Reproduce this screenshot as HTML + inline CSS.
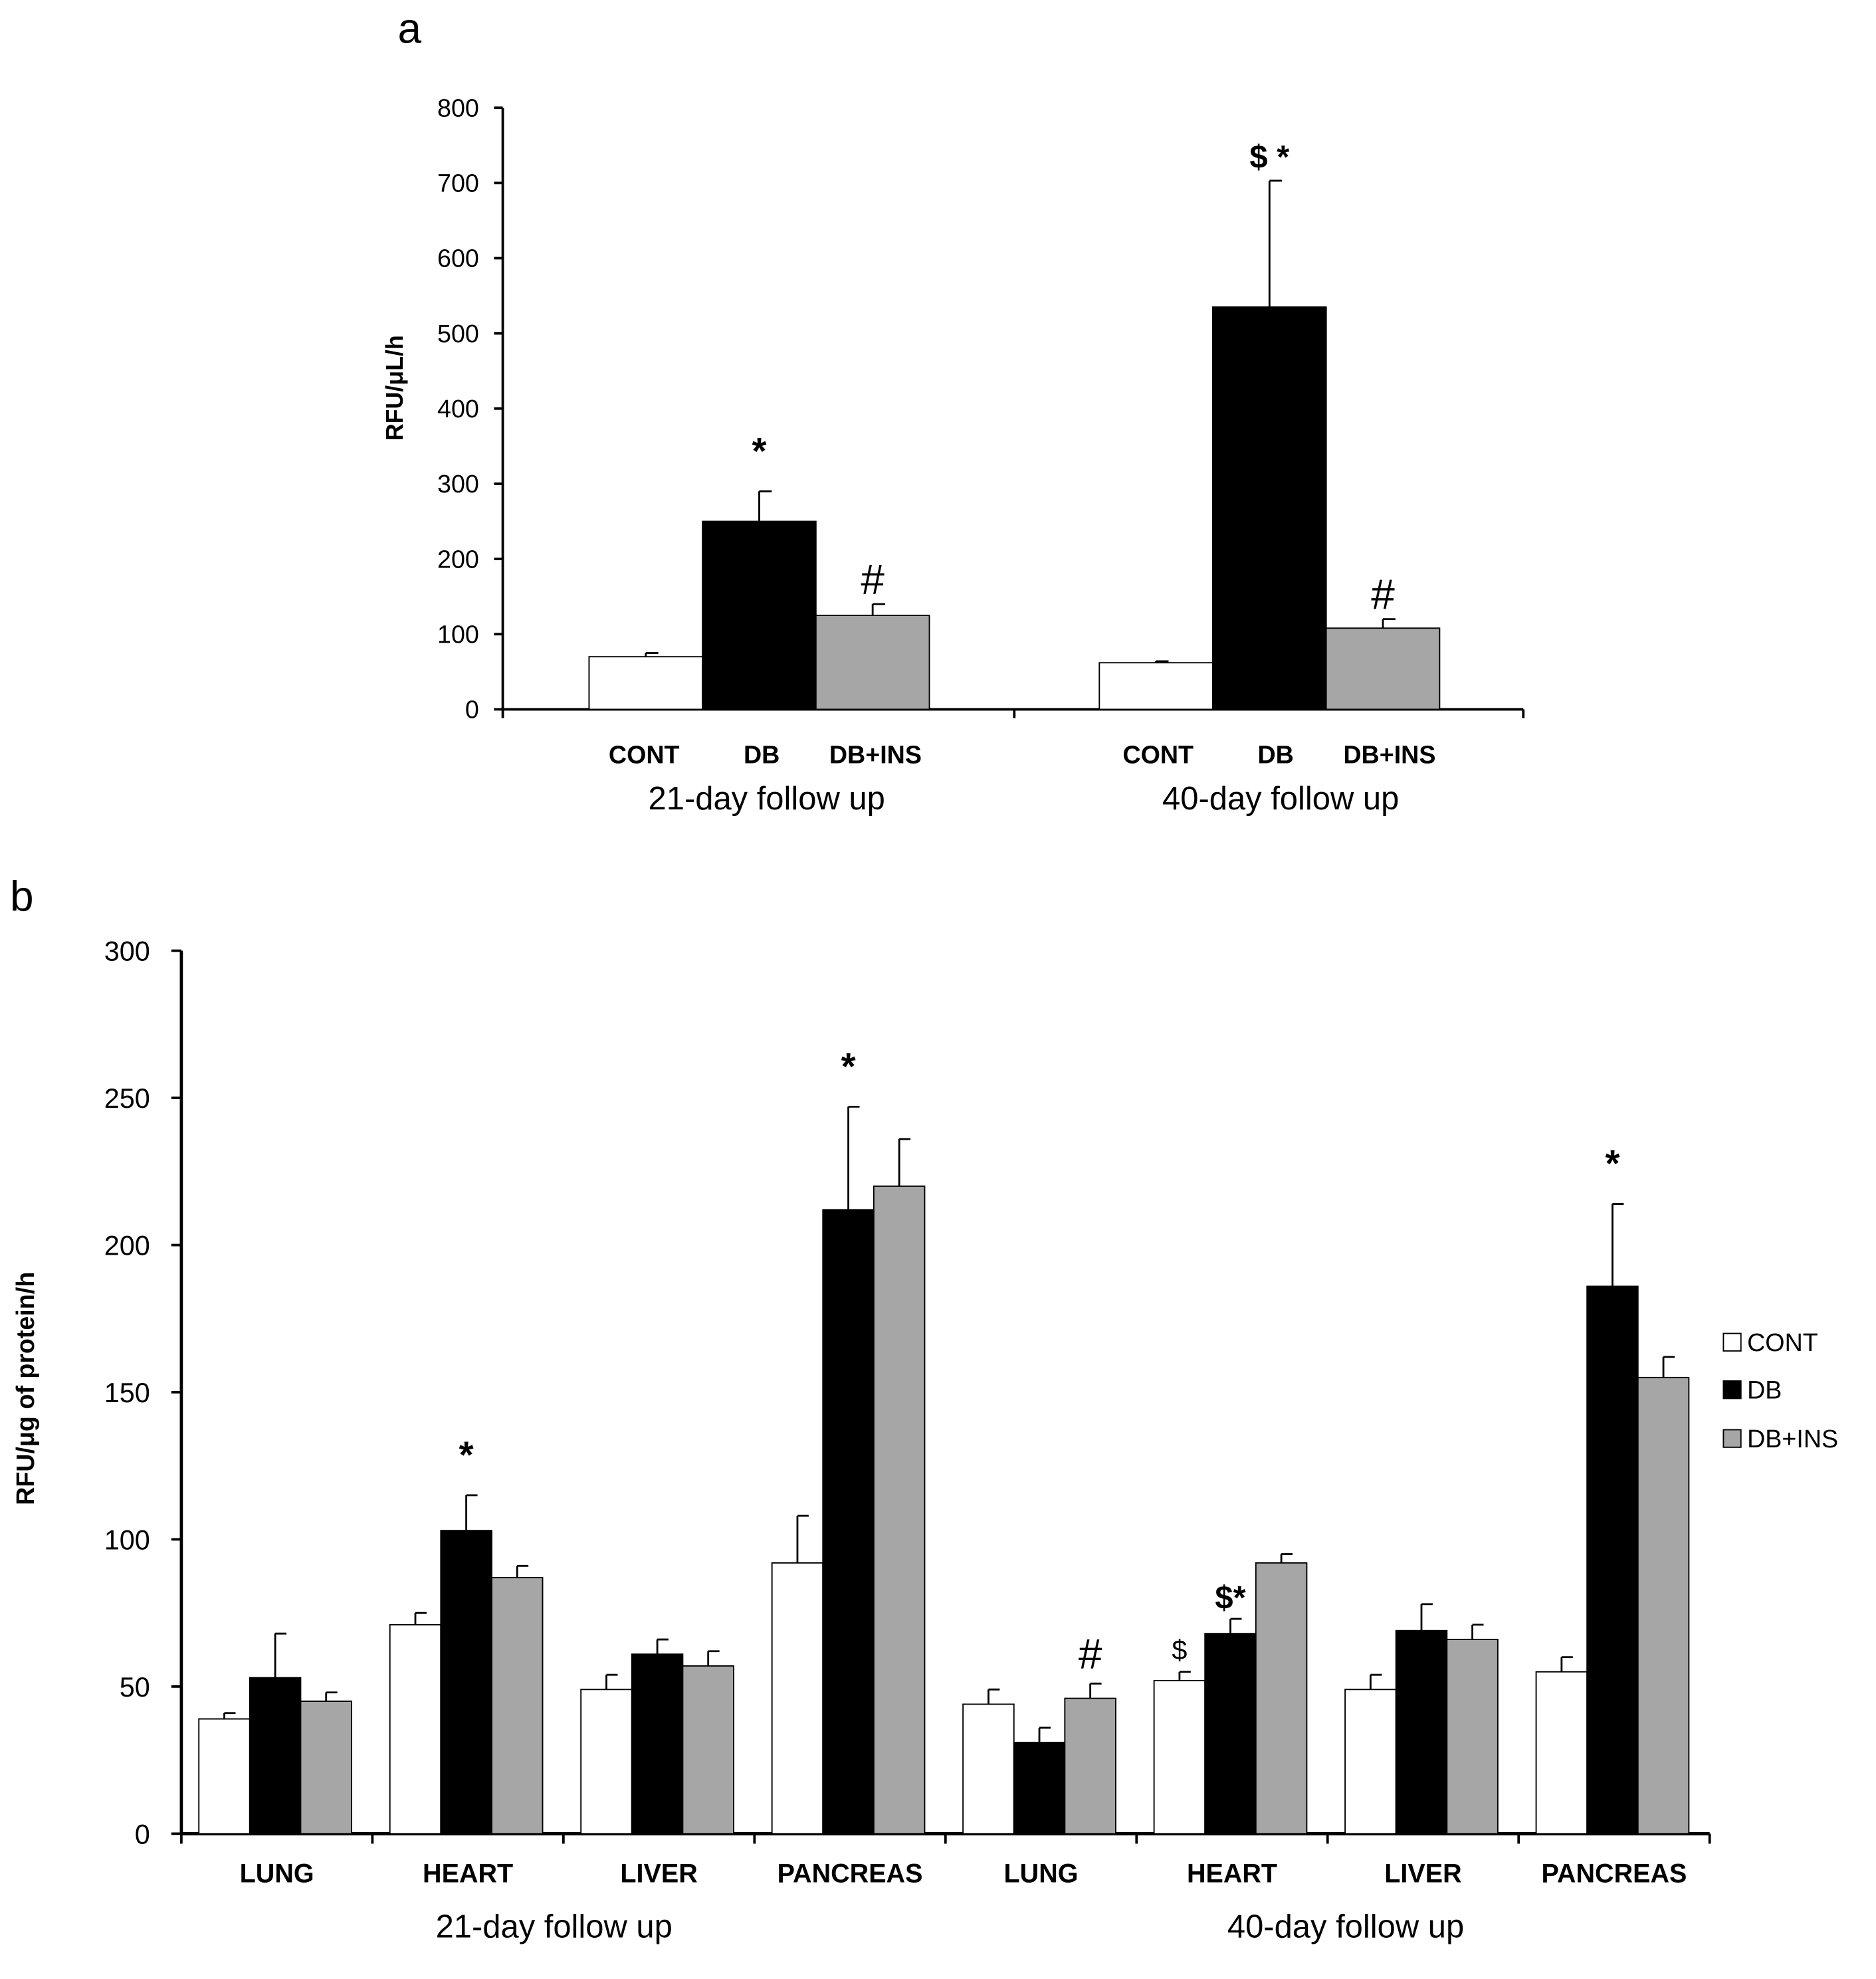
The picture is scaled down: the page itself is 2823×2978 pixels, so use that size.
<!DOCTYPE html>
<html><head><meta charset="utf-8"><style>
html,body{margin:0;padding:0;background:#fff}
svg{display:block;font-family:"Liberation Sans",Arial,sans-serif}
</style></head><body>
<svg id="chart" width="2823" height="2978" viewBox="0 0 1500 1582" xmlns="http://www.w3.org/2000/svg">
<rect width="1500" height="1582" fill="#fff"/>
<g id="pa"></g>
<g id="pb"></g>
</svg>
<script>
// Panel a data
const aGroups = ["21-day follow up","40-day follow up"];
const aSeries = ["CONT","DB","DB+INS"];
const aValues = [[70,250,125],[62,535,108]];
const aErrors = [[75,290,140],[64,703,120]];
const aTicks = [0,100,200,300,400,500,600,700,800];
const aAnnot = [["","*","#"],["","$ *","#"]];
// Panel b data
const bOrgans = ["LUNG","HEART","LIVER","PANCREAS","LUNG","HEART","LIVER","PANCREAS"];
const bGroups = ["21-day follow up","40-day follow up"];
const bCont = [39,71,49,92,44,52,49,55];
const bDb = [53,103,61,212,31,68,69,186];
const bIns = [45,87,57,220,46,92,66,155];
const bContErr = [41,75,54,108,49,55,54,60];
const bDbErr = [68,115,66,247,36,73,78,214];
const bInsErr = [48,91,62,236,51,95,71,162];
const bTicks = [0,50,100,150,200,250,300];
const bAnnot = [["","",""],["","*",""],["","",""],["","*",""],["","","#"],["$","$*",""],["","",""],["","*",""]];

const NS="http://www.w3.org/2000/svg";
const fills=["#ffffff","#000000","#a6a6a6"];
function mk(parent,tag,attrs,text){const e=document.createElementNS(NS,tag);for(const k in attrs)e.setAttribute(k,attrs[k]);if(text!==undefined)e.textContent=text;parent.appendChild(e);return e;}
function annAttrs(an){
 if(an==='#')return {fs:34,fw:'normal'};
 if(an==='$')return {fs:22,fw:'normal'};
 return {fs:30,fw:'bold'};
}

// ---- Panel a
const pa=document.getElementById('pa');
const ay=v=>567-v*(481/800);
const aX0=402,aX1=1218;
const aBarW=90.7;
const aGroupStart=[471,879];
const aAx=mk(pa,'line',{x1:aX0,y1:ay(800),x2:aX0,y2:567,stroke:'#000','stroke-width':2});

const aXl=mk(pa,'line',{x1:aX0,y1:567,x2:aX1,y2:567,stroke:'#000','stroke-width':2});

[aX0,811,aX1].forEach(x=>mk(pa,'line',{x1:x,y1:567,x2:x,y2:574,stroke:'#000','stroke-width':2}));
aTicks.forEach(t=>{mk(pa,'line',{x1:aX0-7,y1:ay(t),x2:aX0,y2:ay(t),stroke:'#000','stroke-width':2});
 const tl=mk(pa,'text',{x:383,y:ay(t)+7,'text-anchor':'end','font-size':20},t);
 });
aGroups.forEach((g,gi)=>{
 aSeries.forEach((s,si)=>{
  const x=aGroupStart[gi]+si*aBarW,v=aValues[gi][si],e=aErrors[gi][si],cx=x+aBarW/2;
  mk(pa,'line',{x1:cx,y1:ay(e),x2:cx,y2:ay(v),stroke:'#000','stroke-width':1.5});
  mk(pa,'line',{x1:cx,y1:ay(e),x2:cx+10,y2:ay(e),stroke:'#000','stroke-width':1.5});
  const r=mk(pa,'rect',{x:x,y:ay(v),width:aBarW,height:567-ay(v),fill:fills[si],stroke:'#000','stroke-width':1});
  
  
  const lab=mk(pa,'text',{x:[515,609,700][si]+(gi?411:0),y:610,'text-anchor':'middle','font-size':20,'font-weight':'bold'},s);
  
  const an=aAnnot[gi][si];
  if(an){const aa=annAttrs(an==='$ *'?'*':an);
   const at=mk(pa,'text',{x:cx+(an==='$ *'?0:0),y:ay(e)-(an==='#'?8:(an==='$ *'?10:22)),'text-anchor':'middle','font-size':an==='$ *'?26:aa.fs,'font-weight':an==='#'?'normal':'bold'},an);
   }
 });
 const gl=mk(pa,'text',{x:[613,1024][gi],y:647,'text-anchor':'middle','font-size':26},g);
 
});
const ayl=mk(pa,'text',{x:0,y:0,transform:'translate(322,310) rotate(-90)','text-anchor':'middle','font-size':19,'font-weight':'bold'},'RFU/μL/h');

const pla=mk(pa,'text',{x:318,y:34,'font-size':34},'a');


// ---- Panel b
const pb=document.getElementById('pb');
const by=v=>1466-v*(706/300);
const bX0=145,bX1=1367,gw=(bX1-bX0)/8,bw=40.7;
const bAx=mk(pb,'line',{x1:bX0,y1:by(300),x2:bX0,y2:1466,stroke:'#000','stroke-width':2.5});

const bXl=mk(pb,'line',{x1:bX0,y1:1466,x2:bX1,y2:1466,stroke:'#000','stroke-width':2.5});

for(let i=0;i<=8;i++)mk(pb,'line',{x1:bX0+i*gw,y1:1466,x2:bX0+i*gw,y2:1474,stroke:'#000','stroke-width':2});
bTicks.forEach(t=>{mk(pb,'line',{x1:bX0-8,y1:by(t),x2:bX0,y2:by(t),stroke:'#000','stroke-width':2});
 const tl=mk(pb,'text',{x:120,y:by(t)+8,'text-anchor':'end','font-size':22},t);
 });
const bVals=[bCont,bDb,bIns],bErrs=[bContErr,bDbErr,bInsErr],bNames=['cont','db','db-ins'];
bOrgans.forEach((o,i)=>{
 const gx=bX0+i*gw+14;
 for(let s=0;s<3;s++){
  const x=gx+s*bw,v=bVals[s][i],e=bErrs[s][i],cx=x+bw/2;
  mk(pb,'line',{x1:cx,y1:by(e),x2:cx,y2:by(v),stroke:'#000','stroke-width':1.5});
  mk(pb,'line',{x1:cx,y1:by(e),x2:cx+9,y2:by(e),stroke:'#000','stroke-width':1.5});
  const r=mk(pb,'rect',{x:x,y:by(v),width:bw,height:1466-by(v),fill:fills[s],stroke:'#000','stroke-width':1});
  
  
  const an=bAnnot[i][s];
  if(an){const aa=annAttrs(an==='$*'?'*':an);
   const at=mk(pb,'text',{x:cx,y:by(e)-(an==='#'?12:(an==='$'?10:(an==='$*'?8:22))),'text-anchor':'middle','font-size':an==='$*'?26:aa.fs,'font-weight':(an==='#'||an==='$')?'normal':'bold'},an);
   }
 }
 const cl=mk(pb,'text',{x:bX0+i*gw+gw/2,y:1505,'text-anchor':'middle','font-size':21,'font-weight':'bold'},o);
 
});
bGroups.forEach((g,gi)=>{const gl=mk(pb,'text',{x:[443,1076][gi],y:1549,'text-anchor':'middle','font-size':26},g);
 });
const byl=mk(pb,'text',{x:0,y:0,transform:'translate(27,1110) rotate(-90)','text-anchor':'middle','font-size':20,'font-weight':'bold'},'RFU/μg of protein/h');

const plb=mk(pb,'text',{x:8,y:728,'font-size':34},'b');

['CONT','DB','DB+INS'].forEach((s,si)=>{
 const yy=[1073,1111,1150][si];
 const lr=mk(pb,'rect',{x:1378,y:yy-7,width:14,height:14,fill:fills[si],stroke:'#000','stroke-width':1});
 
 const lt=mk(pb,'text',{x:1397,y:yy+7,'font-size':20},s);
 
});
</script>
</body></html>
